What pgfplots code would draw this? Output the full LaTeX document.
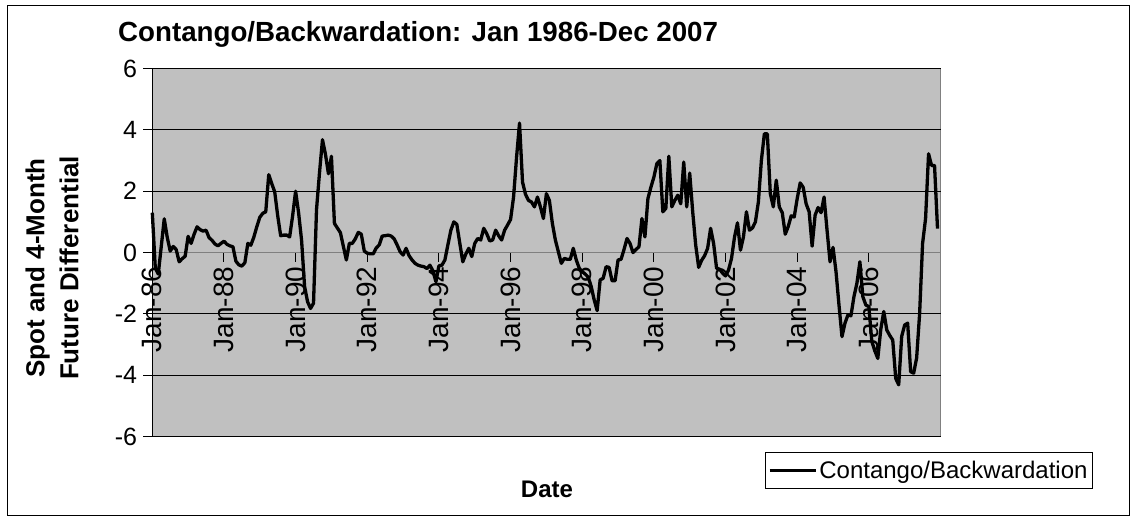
\documentclass[border=0pt]{standalone}
\usepackage{pgfplots}
\usepackage{pgfplotstable}
\pgfplotsset{compat=1.18}
\usepackage{fontspec}
\setmainfont{Liberation Sans}
\definecolor{plotgray}{HTML}{C0C0C0}
\definecolor{edgegray}{HTML}{808080}
\pgfplotstableread{
i v
0 1.30
1 -0.50
2 -0.70
3 0.20
4 1.10
5 0.50
6 0.05
7 0.20
8 0.10
9 -0.30
10 -0.20
11 -0.12
12 0.53
13 0.30
14 0.60
15 0.84
16 0.75
17 0.70
18 0.73
19 0.49
20 0.40
21 0.28
22 0.22
23 0.30
24 0.37
25 0.27
26 0.22
27 0.19
28 -0.28
29 -0.40
30 -0.44
31 -0.33
32 0.30
33 0.24
34 0.50
35 0.84
36 1.15
37 1.28
38 1.33
39 2.54
40 2.25
41 1.98
42 1.20
43 0.55
44 0.57
45 0.57
46 0.51
47 1.20
48 2.00
49 1.30
50 0.40
51 -1.10
52 -1.60
53 -1.82
54 -1.65
55 1.40
56 2.60
57 3.68
58 3.20
59 2.57
60 3.14
61 0.95
62 0.80
63 0.65
64 0.20
65 -0.24
66 0.30
67 0.30
68 0.45
69 0.66
70 0.60
71 0.05
72 -0.02
73 -0.04
74 -0.04
75 0.15
76 0.25
77 0.54
78 0.55
79 0.57
80 0.54
81 0.45
82 0.25
83 0.03
84 -0.08
85 0.14
86 -0.10
87 -0.24
88 -0.35
89 -0.41
90 -0.44
91 -0.46
92 -0.52
93 -0.41
94 -0.60
95 -0.95
96 -0.43
97 -0.41
98 -0.24
99 0.25
100 0.73
101 1.00
102 0.92
103 0.30
104 -0.30
105 -0.05
106 0.14
107 -0.13
108 0.30
109 0.46
110 0.41
111 0.79
112 0.62
113 0.38
114 0.41
115 0.73
116 0.55
117 0.41
118 0.73
119 0.90
120 1.08
121 1.81
122 3.10
123 4.22
124 2.30
125 1.90
126 1.70
127 1.65
128 1.49
129 1.81
130 1.49
131 1.11
132 1.92
133 1.70
134 0.95
135 0.41
136 0.03
137 -0.35
138 -0.19
139 -0.22
140 -0.22
141 0.14
142 -0.24
143 -0.51
144 -0.62
145 -0.70
146 -0.80
147 -1.10
148 -1.54
149 -1.89
150 -0.89
151 -0.84
152 -0.46
153 -0.48
154 -0.92
155 -0.92
156 -0.24
157 -0.22
158 0.10
159 0.46
160 0.30
161 0.00
162 0.10
163 0.19
164 1.11
165 0.51
166 1.76
167 2.13
168 2.46
169 2.90
170 3.00
171 1.33
172 1.44
173 3.14
174 1.49
175 1.70
176 1.87
177 1.59
178 2.95
179 1.49
180 2.59
181 1.33
182 0.25
183 -0.48
184 -0.25
185 -0.10
186 0.14
187 0.79
188 0.30
189 -0.51
190 -0.54
191 -0.67
192 -0.76
193 -0.57
194 -0.19
195 0.50
196 0.97
197 0.08
198 0.51
199 1.33
200 0.73
201 0.80
202 1.00
203 1.65
204 3.00
205 3.87
206 3.87
207 1.92
208 1.49
209 2.36
210 1.49
211 1.30
212 0.60
213 0.85
214 1.20
215 1.16
216 1.76
217 2.27
218 2.13
219 1.59
220 1.33
221 0.21
222 1.22
223 1.47
224 1.30
225 1.81
226 0.73
227 -0.30
228 0.17
229 -0.62
230 -1.71
231 -2.74
232 -2.30
233 -2.03
234 -2.06
235 -1.44
236 -1.00
237 -0.30
238 -1.44
239 -1.71
240 -1.76
241 -2.90
242 -3.20
243 -3.45
244 -2.50
245 -1.92
246 -2.52
247 -2.70
248 -2.85
249 -4.10
250 -4.31
251 -2.73
252 -2.36
253 -2.30
254 -3.88
255 -3.93
256 -3.44
257 -2.00
258 0.30
259 1.11
260 3.22
261 2.84
262 2.84
263 0.78
}\datatable
\begin{document}
\begin{tikzpicture}
\useasboundingbox (0pt,0pt) rectangle (1136pt,520pt);
\draw[black, line width=1pt] (7pt,5pt) rectangle (1129pt,514pt);
\begin{axis}[
  at={(152.3pt,83.3pt)}, anchor=south west,
  width=788.2pt, height=368.2pt, scale only axis,
  xmin=0, xmax=264, ymin=-6, ymax=6,
  axis x line*=middle, axis y line*=left,
  hide obscured x ticks=false, hide obscured y ticks=false,
  axis background/.style={fill=plotgray, draw=edgegray, line width=1.2pt},
  x axis line style={edgegray, line width=1.5pt},
  y axis line style={black, line width=1pt},
  ymajorgrids, major grid style={black, line width=1pt},
  tick align=outside, major tick length=9pt,
  tick style={black, line width=1pt},
  xtick={0,24,...,240},
  xticklabels={Jan-86,Jan-88,Jan-90,Jan-92,Jan-94,Jan-96,Jan-98,Jan-00,Jan-02,Jan-04,Jan-06},
  xticklabel style={rotate=90, anchor=east, inner sep=5pt, font=\fontsize{28}{28}\selectfont},
  ytick={-6,-4,-2,0,2,4,6},
  yticklabels={-6,-4,-2,0,2,4,6},
  yticklabel style={anchor=east, inner sep=6pt, font=\fontsize{25}{25}\selectfont},
  legend style={at={(axis description cs:1.1935,-0.0416)}, anchor=north east,
    draw=black, line width=1pt, fill=white, font=\fontsize{24}{24}\selectfont,
    inner xsep=3pt, inner ysep=6.5pt},
  legend image code/.code={\draw[black, line width=3.3pt] (0pt,0pt) -- (46pt,0pt);},
  clip=false,
]
\addplot[black, line width=3.3pt, no markers, line join=round] table[x=i, y=v] {\datatable};
\addlegendentry{Contango/Backwardation}
\end{axis}
\node[anchor=base west, font=\bfseries\fontsize{27.7}{27.7}\selectfont, inner sep=0pt] at (118pt,478pt) {Contango/Backwardation: Jan 1986-Dec 2007};
\node[rotate=90, align=center, font=\bfseries\fontsize{26}{34}\selectfont] at (52pt,252pt) {Spot and 4-Month\\Future Differential};
\node[font=\bfseries\fontsize{24}{24}\selectfont] at (547pt,31pt) {Date};
\end{tikzpicture}
\end{document}
